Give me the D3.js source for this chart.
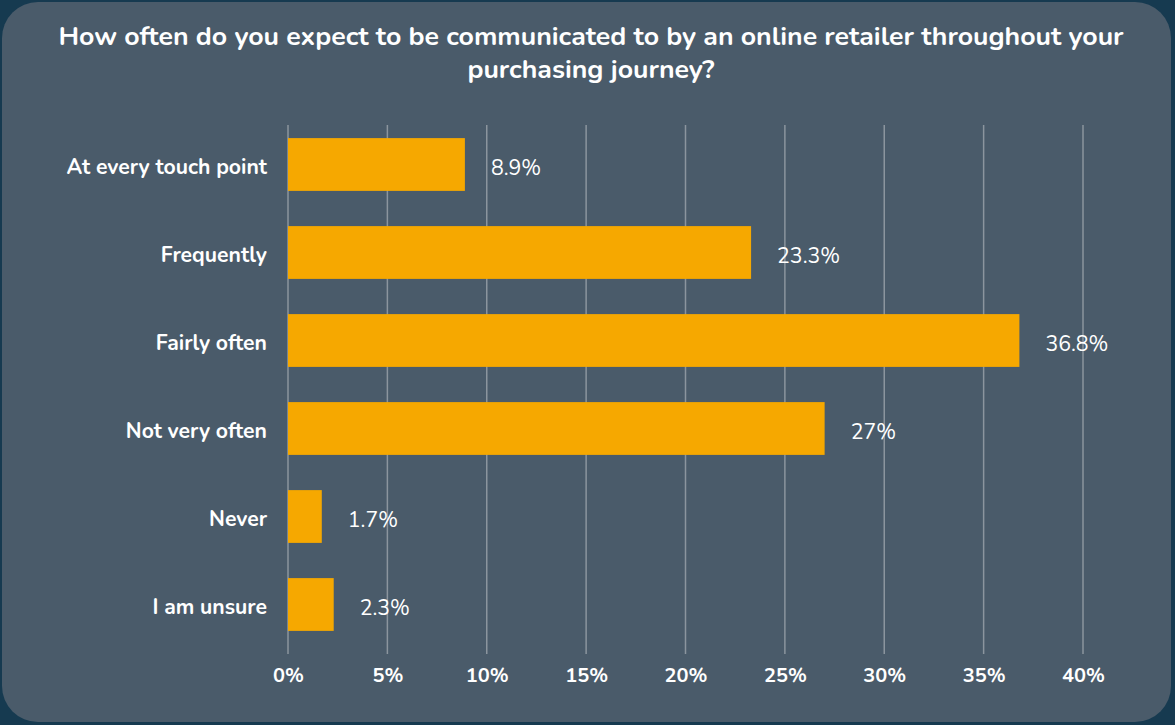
<!DOCTYPE html>
<html>
<head>
<meta charset="utf-8">
<script src="https://cdn.jsdelivr.net/npm/d3@7"></script>
<style>
  html, body { margin: 0; padding: 0; background: #163a50; }
  svg { display: block; }
</style>
</head>
<body>
<svg id="chart" width="1175" height="725"></svg>
<script>
const categories = ["At every touch point", "Frequently", "Fairly often", "Not very often", "Never", "I am unsure"];
const values = [8.9, 23.3, 36.8, 27, 1.7, 2.3];
const valueLabels = ["8.9%", "23.3%", "36.8%", "27%", "1.7%", "2.3%"];
const tickValues = [0, 5, 10, 15, 20, 25, 30, 35, 40];
const titleLines = [
  "How often do you expect to be communicated to by an online retailer throughout your",
  "purchasing journey?"
];

const W = 1175, H = 725;
const font = "Nunito, Lato, 'Open Sans', sans-serif";
const svg = d3.select("#chart");

// card
svg.append("rect")
  .attr("x", 2).attr("y", 2).attr("width", W - 6).attr("height", H - 5)
  .attr("rx", 36).attr("ry", 36)
  .attr("fill", "#4a5b6a");

// title
svg.append("g").selectAll("text").data(titleLines).join("text")
  .attr("x", 591).attr("y", (d, i) => 45 + i * 33)
  .attr("text-anchor", "middle")
  .attr("font-family", font).attr("font-weight", 700).attr("font-size", 26.7)
  .attr("fill", "#ffffff")
  .text(d => d);

const x = d3.scaleLinear().domain([0, 40]).range([288, 1083]);
const y = d3.scaleBand().domain(categories).range([120.5, 648.5]).paddingInner(0.4).paddingOuter(0.2);

// vertical gridlines
svg.append("g").selectAll("line").data(tickValues).join("line")
  .attr("x1", d => x(d)).attr("x2", d => x(d))
  .attr("y1", 125).attr("y2", 654)
  .attr("stroke", "#8b959e").attr("stroke-width", 1.5);

// bars
svg.append("g").selectAll("rect").data(categories).join("rect")
  .attr("x", x(0))
  .attr("y", d => y(d))
  .attr("width", (d, i) => x(values[i]) - x(0))
  .attr("height", y.bandwidth())
  .attr("fill", "#f6a800");

// value labels
svg.append("g").selectAll("text").data(categories).join("text")
  .attr("x", (d, i) => x(values[i]) + 26)
  .attr("y", d => y(d) + y.bandwidth() / 2 + 3)
  .attr("dy", "0.35em")
  .attr("font-family", font).attr("font-size", 21.3)
  .attr("fill", "#ffffff")
  .text((d, i) => valueLabels[i]);

// category axis
const yAxis = svg.append("g")
  .attr("transform", `translate(${x(0)},3)`)
  .call(d3.axisLeft(y).tickSize(0).tickPadding(21));
yAxis.select(".domain").remove();
yAxis.selectAll("text")
  .attr("font-family", font).attr("font-weight", 700).attr("font-size", 21.2)
  .attr("fill", "#ffffff");

// value axis
const xAxis = svg.append("g")
  .attr("transform", "translate(0,654)")
  .call(d3.axisBottom(x).tickValues(tickValues).tickFormat(d => d + "%").tickSize(0).tickPadding(14));
xAxis.select(".domain").remove();
xAxis.selectAll("text")
  .attr("font-family", font).attr("font-weight", 700).attr("font-size", 20)
  .attr("fill", "#ffffff");
</script>
</body>
</html>
